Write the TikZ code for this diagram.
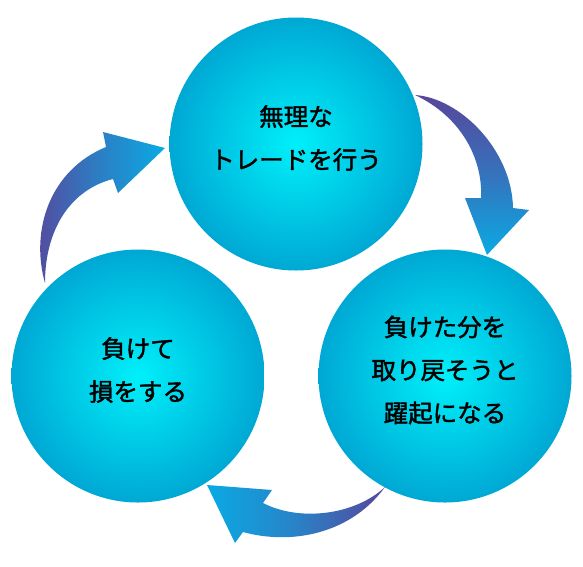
\documentclass[tikz,border=0pt]{standalone}
\usepackage{fontspec}
\newfontfamily\cjk[FakeBold=1.6]{Noto Sans CJK JP}
\usetikzlibrary{positioning}
\definecolor{ballcenter}{RGB}{0,240,250}
\definecolor{balledge}{RGB}{0,168,212}
\definecolor{arrowpurple}{RGB}{88,70,155}
\definecolor{arrowblue}{RGB}{10,170,228}

\begin{document}
\begin{tikzpicture}[
  x=1pt, y=-1pt,
  ball/.style={circle, minimum size=253pt, inner sep=0pt,
               inner color=ballcenter, outer color=balledge},
  balltext/.style={align=center, inner sep=0pt,
               font=\cjk\fontsize{24.5}{43}\selectfont},
  bigarrow/.style={draw=none}
]
  \useasboundingbox (0,0) rectangle (583,566);
  \node[ball] (trade) at (296,144) {};
  \node[ball] (recover) at (445,376) {};
  \node[ball] (lose) at (138,376) {};
  \node[balltext] (tradetext) at ([yshift=6pt]trade.center) {無理な\\トレードを行う};
  \node[balltext] (recovertext) at ([yshift=6pt]recover.center) {負けた分を\\取り戻そうと\\躍起になる};
  \node[balltext] (losetext) at ([yshift=6pt]lose.center) {負けて\\損をする};
  % trade -> recover
  \shade[bigarrow, top color=arrowpurple, bottom color=arrowblue, middle color=arrowpurple!55!arrowblue]
    (415,95) .. controls (460,98) and (512,150) .. (513,208) -- (529,210) -- (487,255)
    -- (465,198) -- (481,198) .. controls (483,160) and (462,117) .. cycle;
  % recover -> lose
  \shade[bigarrow, left color=arrowblue, right color=arrowpurple, middle color=arrowpurple!40!arrowblue]
    (385,487) .. controls (350,535) and (290,545) .. (243,532) -- (235,543) -- (207,485)
    -- (272,490) -- (263,503) .. controls (300,522) and (355,515) .. cycle;
  % lose -> trade
  \shade[bigarrow, left color=arrowpurple, right color=arrowblue, middle color=arrowpurple!45!arrowblue]
    (45,283) .. controls (30,230) and (50,170) .. (106,147) -- (103,132) -- (165,148)
    -- (118,193) -- (113,179) .. controls (70,190) and (45,230) .. cycle;
\end{tikzpicture}
\end{document}
